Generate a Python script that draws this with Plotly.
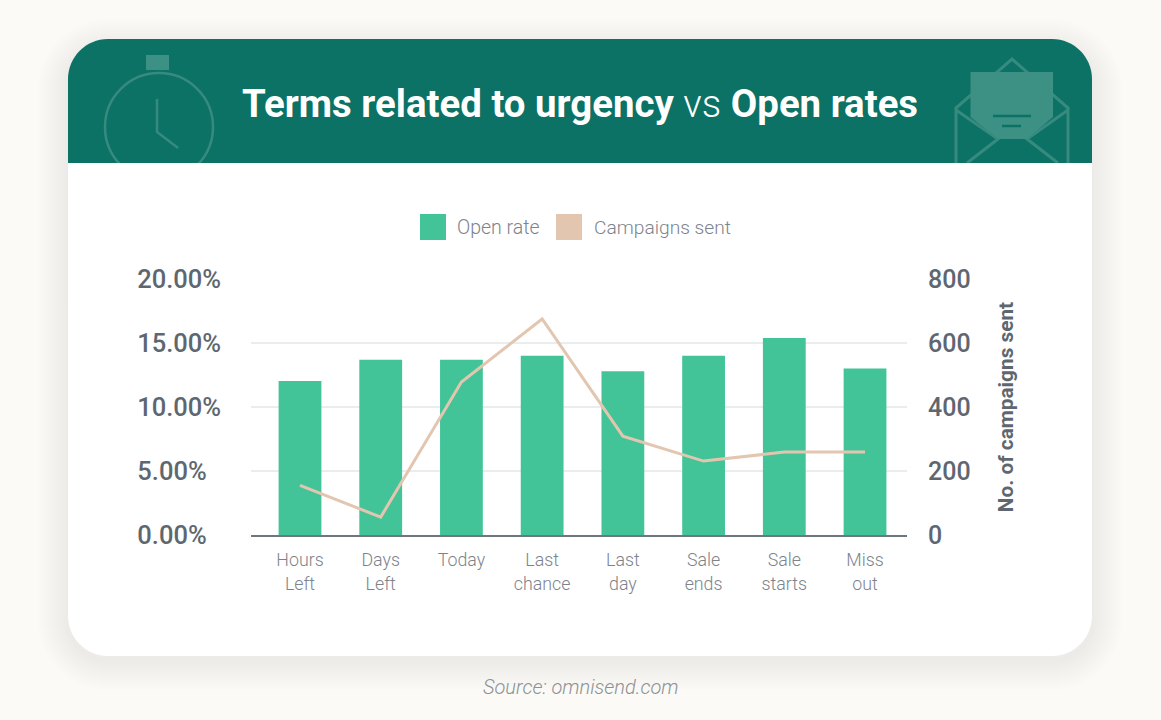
import plotly.graph_objects as go

W, H = 1161, 720
categories = ["Hours<br>Left", "Days<br>Left", "Today", "Last<br>chance", "Last<br>day", "Sale<br>ends", "Sale<br>starts", "Miss<br>out"]
open_rate = [12.03, 13.7, 13.7, 14.0, 12.8, 14.0, 15.4, 13.0]
campaigns = [155, 56, 478, 675, 309, 231, 259, 259]
left_ticks = [0, 5, 10, 15, 20]
right_ticks = [0, 200, 400, 600, 800]

GREEN, BAR, LINE = "#0b7265", "#42c498", "#e3c6b0"
ICON, ICON_FILL = "#368b7e", "#3d9184"
TICK, LIGHT = "#5e6770", "#7d838b"

def X(p): return p / W
def Y(p): return 1 - p / H
def P(pts, close=False):
    s = "M " + " L ".join(f"{X(a):.5f},{Y(b):.5f}" for a, b in pts)
    return s + (" Z" if close else "")
def rrect(x0, y0, x1, y1, rt, rb):
    kt, kb = rt * 0.45, rb * 0.45
    c = lambda a, b: f"{X(a):.5f},{Y(b):.5f}"
    return (f"M {c(x0+rt,y0)} L {c(x1-rt,y0)} C {c(x1-kt,y0)} {c(x1,y0+kt)} {c(x1,y0+rt)} "
            f"L {c(x1,y1-rb)} C {c(x1,y1-kb)} {c(x1-kb,y1)} {c(x1-rb,y1)} "
            f"L {c(x0+rb,y1)} C {c(x0+kb,y1)} {c(x0,y1-kb)} {c(x0,y1-rb)} "
            f"L {c(x0,y0+rt)} C {c(x0,y0+kt)} {c(x0+kt,y0)} {c(x0+rt,y0)} Z")

shapes = []
def fill(path, color, opacity=1):
    shapes.append(dict(type="path", xref="paper", yref="paper", path=path, fillcolor=color,
                       line=dict(width=0), layer="below", opacity=opacity))
def stroke(pts, color=ICON, width=3):
    shapes.append(dict(type="path", xref="paper", yref="paper", path=P(pts),
                       line=dict(color=color, width=width), layer="below"))

# card shadow
for g in range(30, 0, -2):
    fill(rrect(68 - g, 39 - g + 10, 1092 + g, 656 + g + 4, 40 + g, 40 + g), "#6f7565", 0.008)
# header and its icons
fill(rrect(68, 39, 1092, 300, 40, 0), GREEN)
shapes.append(dict(type="circle", xref="paper", yref="paper", x0=X(105), x1=X(213), y0=Y(73), y1=Y(181),
                   line=dict(color=ICON, width=2.5), layer="below"))
fill(P([(146, 55), (169, 55), (169, 70), (146, 70)], True), ICON_FILL)
stroke([(157, 99), (157, 132), (178, 148)], width=2.5)
stroke([(956, 200), (956, 108), (1012, 59), (1068, 108), (1068, 200)])
stroke([(956, 110), (998, 139), (967, 163)])
stroke([(1068, 110), (1027, 139), (1058, 163)])
fill(P([(970.5, 72), (1053, 72), (1053, 117), (1027, 139), (998, 139), (970.5, 117)], True), ICON_FILL)
stroke([(993, 116), (1031, 116)], GREEN, 2.5)
stroke([(1002, 126), (1021, 126)], GREEN, 2.5)
# white card body covers what the icons overrun
fill(rrect(68, 163, 1092, 656, 0, 40), "#ffffff")
# legend swatches
fill(P([(420, 214), (446, 214), (446, 240), (420, 240)], True), BAR)
fill(P([(556, 214), (582, 214), (582, 240), (556, 240)], True), LINE)

def note(text, px, py, size, color, anchor="left", **font):
    return dict(text=text, xref="paper", yref="paper", x=X(px), y=Y(py), showarrow=False, xanchor=anchor,
                yanchor="middle", font=dict(size=size, color=color, family="Roboto", **font))

annotations = [
    note("<b>Terms related to urgency</b> <span style='font-weight:300'>vs</span> <b>Open rates</b>",
         580, 104, 38.4, "#ffffff", "center"),
    note("Open rate", 455, 227, 19.5, LIGHT, weight=300),
    note("Campaigns sent", 592, 227, 19.2, LIGHT, weight=300),
    note("Source: omnisend.com", 581, 687, 20, "#8d9194", "center", style="italic", weight=300),
]

fig = go.Figure()
fig.add_bar(x=categories, y=open_rate, name="Open rate", marker=dict(color=BAR, line=dict(width=0)), width=0.53)
fig.add_scatter(x=categories, y=campaigns, name="Campaigns sent", yaxis="y2", mode="lines",
                line=dict(color=LINE, width=3))
fig.update_layout(
    width=W, height=H, margin=dict(l=0, r=0, t=0, b=0, autoexpand=False), paper_bgcolor="#fbfaf6",
    plot_bgcolor="rgba(0,0,0,0)",
    showlegend=False, shapes=shapes, annotations=annotations, font=dict(family="Roboto"),
    xaxis=dict(domain=[X(251), X(907)], range=[-0.607, 7.52], type="category", categoryorder="array",
               categoryarray=categories, showgrid=False, showline=True, linecolor="#6f777d", linewidth=2,
               ticks="", ticklabelstandoff=8, automargin=False,
               tickfont=dict(size=17.8, color=LIGHT, family="Roboto", weight=300)),
    yaxis=dict(domain=[Y(535), Y(279)], range=[0, 20], tickmode="array", tickvals=left_ticks,
               ticktext=[(f"{v:.2f}%" + ("\u2007" if v < 10 else "")) for v in left_ticks],
               gridcolor="#e9edee", gridwidth=2, zeroline=False, showline=False, ticks="", ticklabelstandoff=29,
               automargin=False,
               tickfont=dict(size=25.5, color=TICK, family="Roboto", weight=500)),
    yaxis2=dict(overlaying="y", side="right", anchor="x", range=[0, 800], tickmode="array", tickvals=right_ticks,
                showgrid=False, zeroline=False, showline=False, ticks="", ticklabelstandoff=20, automargin=True,
                tickfont=dict(size=25, color=TICK, family="Roboto", weight=500),
                title=dict(text="<b>No. of campaigns sent</b>", standoff=28,
                           font=dict(size=20.8, color=TICK, family="Roboto"))),
)
fig.write_html("out.html", config=dict(displayModeBar=False),
               post_script="document.body.style.margin='0';document.body.style.background='#fbfaf6';")
